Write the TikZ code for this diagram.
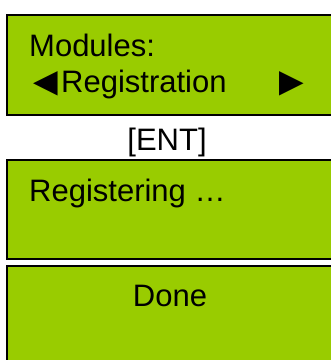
\documentclass[tikz,border=0pt]{standalone}
\usepackage{fontspec}
\setmainfont{Liberation Sans}
\definecolor{lcdgreen}{HTML}{99CC00}
\begin{document}
\begin{tikzpicture}[x=1pt,y=1pt,
  lcd/.style={draw=black,line width=2pt,fill=lcdgreen},
  txt/.style={inner sep=0pt,font=\fontsize{31}{37}\selectfont},
  arr/.style={inner sep=0pt,font=\fontsize{41}{49}\selectfont,anchor=base west}]
\useasboundingbox (0,0) rectangle (331,360);
\clip (0,0) rectangle (331,360);
\fill[white] (0,0) rectangle (331,360);
\path[lcd] (7,345) rectangle (345,245) coordinate (b1);
\path[lcd] (7,200) rectangle (345,101) coordinate (b2);
\path[lcd] (7,94) rectangle (345,-20) coordinate (b3);
\node[txt,anchor=base west] (mod) at (29,304) {Modules:};
\node[arr] (la) at (25,265) {◄};
\node[txt,anchor=base west] (reg) at (61,268) {Registration};
\node[arr] (ra) at (271,265) {►};
\node[txt,anchor=base] (ent) at (167,210) {[ENT]};
\node[txt,anchor=base west] (regg) at (29,158) {Registering …};
\node[txt,anchor=base] (done) at (170,53) {Done};
\end{tikzpicture}
\end{document}
